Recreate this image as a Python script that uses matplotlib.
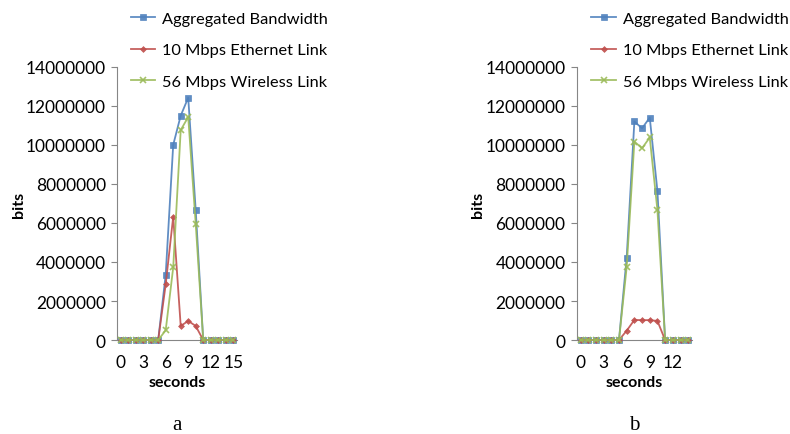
import numpy as np
import matplotlib.pyplot as plt

plt.rcParams['font.family'] = ['Lato', 'DejaVu Sans']

# panel a: seconds 0..15
secs_a = np.arange(16)
agg_a = [0, 0, 0, 0, 0, 0, 3350000, 10000000, 11500000, 12420000, 6650000, 0, 0, 0, 0, 0]
eth_a = [0, 0, 0, 0, 0, 0, 2850000, 6320000, 720000, 980000, 720000, 0, 0, 0, 0, 0]
wl_a = [0, 0, 0, 0, 0, 0, 500000, 3720000, 10760000, 11430000, 5950000, 0, 0, 0, 0, 0]

# panel b: seconds 0..14
secs_b = np.arange(15)
agg_b = [0, 0, 0, 0, 0, 0, 4230000, 11200000, 10850000, 11400000, 7630000, 0, 0, 0, 0]
eth_b = [0, 0, 0, 0, 0, 0, 480000, 1030000, 1020000, 1020000, 980000, 0, 0, 0, 0]
wl_b = [0, 0, 0, 0, 0, 0, 3740000, 10170000, 9830000, 10380000, 6650000, 0, 0, 0, 0]

labels = ['Aggregated Bandwidth', '10 Mbps Ethernet Link', '56 Mbps Wireless Link']
colors = ['#4F81BD', '#C0504D', '#9BBB59']
markers = ['s', 'D', 'x']
msizes = [5, 3, 5]

yticks = np.arange(0, 14000001, 2000000)

fig = plt.figure(figsize=(7.9, 4.35), dpi=100)


def panel(rect, x, series, tag, leg_x):
    ax = fig.add_axes(rect)
    hs = []
    for y, c, m, ms, lab in zip(series, colors, markers, msizes, labels):
        h, = ax.plot(x, y, color=c, marker=m, markersize=ms, lw=1.3,
                     markeredgewidth=1.2 if m == 'x' else 0.5,
                     label=lab, alpha=0.9, clip_on=False, zorder=3)
        hs.append(h)
    ax.set_xlim(-0.5, len(x) - 0.5)
    ax.set_ylim(0, 14000000)
    ax.set_yticks(yticks)
    ax.set_yticklabels([str(v) for v in yticks])
    ax.set_xticks(x[::3])
    ax.set_xticklabels([str(v) for v in x[::3]])
    for s in ['top', 'right']:
        ax.spines[s].set_visible(False)
    for s in ['left', 'bottom']:
        ax.spines[s].set_color('#868686')
    ax.tick_params(axis='y', length=4, color='#868686', labelsize=12.5, pad=4)
    ax.tick_params(axis='x', length=0, labelsize=12.5, pad=10)
    ax.set_xlabel('seconds', fontsize=11.5, fontweight='bold', labelpad=4)
    ax.set_ylabel('bits', fontsize=11.5, fontweight='bold', labelpad=0)
    fig.legend(handles=hs, loc='upper left', bbox_to_anchor=(leg_x, 1.0),
               frameon=False, fontsize=11.8, handlelength=1.5,
               handletextpad=0.4, labelspacing=1.05, borderpad=0.25)
    fig.text(rect[0] + rect[2] * 0.5, 0.012, tag, ha='center',
             family='Liberation Serif', fontsize=15)
    return ax


panel([0.148, 0.216, 0.152, 0.628], secs_a, [agg_a, eth_a, wl_a], 'a', 0.150)
panel([0.730, 0.216, 0.146, 0.628], secs_b, [agg_b, eth_b, wl_b], 'b', 0.733)

fig.savefig('out.png', dpi=100)
